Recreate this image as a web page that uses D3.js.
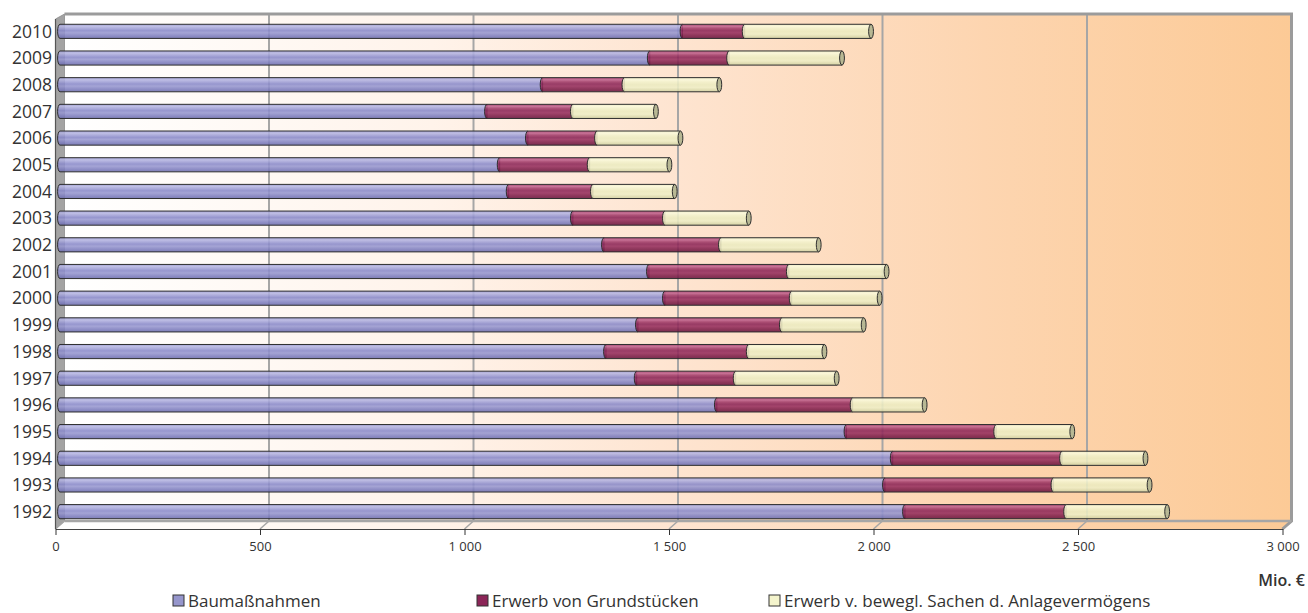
<!DOCTYPE html>
<html><head><meta charset="utf-8">
<script src="https://cdn.jsdelivr.net/npm/d3@7"></script>
<style>
html,body{margin:0;padding:0;background:#fff;}
svg{display:block;font-family:"Open Sans","Noto Sans",sans-serif;}
</style></head>
<body><svg id="chart" width="1308" height="613"></svg>
<script>
const years = ["2010","2009","2008","2007","2006","2005","2004","2003","2002","2001","2000","1999","1998","1997","1996","1995","1994","1993","1992"];
const baumassnahmen = [1522,1442,1180,1044,1144,1075,1097,1254,1330,1440,1479,1413,1335,1410,1606,1923,2036,2017,2066];
const grundstuecke  = [152,194,200,210,169,220,206,225,286,342,310,352,349,242,332,366,414,412,394];
const anlageverm    = [309,276,232,203,204,195,200,205,239,239,215,200,185,247,176,186,204,235,247];
const seriesNames = ["Baumaßnahmen","Erwerb von Grundstücken","Erwerb v. bewegl. Sachen d. Anlagevermögens"];
const tickValues = [0,500,1000,1500,2000,2500,3000];
const unitLabel = "Mio. €";

const svg = d3.select("#chart");
const defs = svg.append("defs");

// geometry
const frontLeft = 55.5, frontRight = 1282.5, frontTop = 22, frontBottom = 529;
const dx = 9, dy = -8;
const x = d3.scaleLinear().domain([0,3000]).range([frontLeft, frontRight]);
const xb = v => x(v) + dx/2;
const y = d3.scaleBand().domain(years).range([frontTop + dy/2, frontBottom + dy/2]).paddingInner(0.47).paddingOuter(0.235);

// wall gradient
const wg = defs.append("linearGradient").attr("id","wall").attr("gradientUnits","userSpaceOnUse")
  .attr("x1", frontLeft+dx).attr("x2", frontRight+dx).attr("y1",0).attr("y2",0);
[[0,"#ffffff"],[0.3,"#fff3ea"],[0.5,"#fee4d0"],[0.75,"#fdd5b0"],[1,"#fcca96"]].forEach(s=>wg.append("stop").attr("offset",s[0]).attr("stop-color",s[1]));

function cylGrad(id, stops){
  const g = defs.append("linearGradient").attr("id",id).attr("x1",0).attr("x2",0).attr("y1",0).attr("y2",1);
  stops.forEach(s=>g.append("stop").attr("offset",s[0]).attr("stop-color",s[1]));
}
cylGrad("g0",[[0,"#9898d0"],[0.15,"#b6b6e2"],[0.3,"#a0a0d6"],[0.45,"#8888c8"],[0.6,"#9898d0"],[0.8,"#8080c0"],[1,"#6c6cac"]]);
cylGrad("g1",[[0,"#a03c6c"],[0.15,"#c0628e"],[0.3,"#a03a68"],[0.45,"#8a2456"],[0.6,"#962e5e"],[0.8,"#7e1e4a"],[1,"#68143e"]]);
cylGrad("g2",[[0,"#eeeec8"],[0.15,"#fafadc"],[0.3,"#f2f2cc"],[0.5,"#ebebc0"],[0.7,"#eeeec6"],[0.85,"#dedeb2"],[1,"#d0d0a2"]]);
const capColors = ["#7070a8","#6a1a44","#b8b894"];

// back wall
svg.append("rect").attr("x", frontLeft+dx).attr("y", frontTop+dy).attr("width", frontRight-frontLeft).attr("height", frontBottom-frontTop)
  .attr("fill","url(#wall)");
// floor
svg.append("path").attr("d",`M${frontLeft},${frontBottom} L${frontLeft+dx},${frontBottom+dy} L${frontRight+dx},${frontBottom+dy} L${frontRight},${frontBottom} Z`)
  .attr("fill","url(#wall)");
// left wall
svg.append("path").attr("d",`M${frontLeft},${frontTop-3} L${frontLeft+dx},${frontTop+dy} L${frontLeft+dx},${frontBottom+dy} L${frontLeft},${frontBottom} Z`)
  .attr("fill","#a3a3a3").attr("stroke","#8c8c8c").attr("stroke-width",0.8);

// gridlines on back wall + floor
const grid = svg.append("g");
tickValues.forEach(t=>{
  if(t>0 && t<3000){
    grid.append("line").attr("x1",x(t)+dx).attr("x2",x(t)+dx).attr("y1",frontTop+dy).attr("y2",frontBottom+dy)
      .attr("stroke","#a6a6a6").attr("stroke-width",2);
  }
  grid.append("line").attr("x1",x(t)+dx).attr("x2",x(t)).attr("y1",frontBottom+dy).attr("y2",frontBottom)
    .attr("stroke","#a6a6a6").attr("stroke-width",1.5);
});
// wall borders
svg.append("path").attr("d",`M${frontLeft+dx},${frontTop+dy} L${frontRight+dx},${frontTop+dy} L${frontRight+dx},${frontBottom+dy} L${frontRight},${frontBottom}`)
  .attr("fill","none").attr("stroke","#9b9b9b").attr("stroke-width",3);
svg.append("line").attr("x1",frontLeft+dx).attr("x2",frontRight+dx).attr("y1",frontBottom+dy).attr("y2",frontBottom+dy)
  .attr("stroke","#a6a6a6").attr("stroke-width",2.5);

// bars
const stackData = years.map((yr,i)=>({year:yr, vals:[baumassnahmen[i], grundstuecke[i], anlageverm[i]]}));
const rx = 2.4;
const bars = svg.append("g");
stackData.forEach(d=>{
  const bw = y.bandwidth();
  const top = y(d.year), bot = top + bw, ry = bw/2;
  let cum = 0;
  d.vals.forEach((v,k)=>{
    const a = xb(cum), b = xb(cum+v);
    cum += v;
    bars.append("path")
      .attr("d",`M${a},${top} L${b},${top} L${b},${bot} L${a},${bot} A${rx},${ry} 0 0 1 ${a},${top} Z`)
      .attr("fill",`url(#g${k})`).attr("fill-opacity",0.88)
      .attr("stroke","#2e2e2e").attr("stroke-width",1);
    if(k===2){
      bars.append("ellipse").attr("cx",b).attr("cy",top+ry).attr("rx",rx).attr("ry",ry)
        .attr("fill",capColors[k]).attr("stroke","#2e2e2e").attr("stroke-width",1);
    }
  });
});

// axes lines
svg.append("line").attr("x1",frontLeft).attr("x2",frontLeft).attr("y1",frontTop-3).attr("y2",frontBottom)
  .attr("stroke","#555").attr("stroke-width",1.2);
const xAxis = d3.axisBottom(x).tickValues(tickValues).tickSize(6).tickSizeOuter(0)
  .tickFormat(d=> d3.format(",")(d).replace(/,/g," "));
const ax = svg.append("g").attr("transform",`translate(0,${frontBottom})`).call(xAxis);
ax.select(".domain").attr("stroke","#444").attr("stroke-width",1.2);
ax.selectAll(".tick line").attr("stroke","#333");
ax.selectAll(".tick text").attr("fill","#333").attr("font-size",13).attr("dy","1.0em")
  .style("font-family","'Open Sans','Noto Sans',sans-serif");

// year labels
const yl = svg.append("g");
years.forEach(yr=>{
  yl.append("text").attr("x",52).attr("y",y(yr)+y.bandwidth()/2).attr("dy","0.36em")
    .attr("text-anchor","end").attr("font-size",17.5).attr("fill","#333").text(yr);
});

// unit
svg.append("text").attr("x",1305).attr("y",586).attr("text-anchor","end").attr("font-size",16).attr("font-weight",600)
  .attr("fill","#333").text(unitLabel);

// legend
const legX = [173, 477, 769];
const fills = ["#9696cc","#8c2658","#f4f4cc"];
seriesNames.forEach((n,i)=>{
  svg.append("rect").attr("x",legX[i]).attr("y",595).attr("width",11).attr("height",11)
    .attr("fill",fills[i]).attr("stroke","#333").attr("stroke-width",1);
  svg.append("text").attr("x",legX[i]+15).attr("y",607).attr("font-size",17).attr("fill","#333").text(n);
});
</script></body></html>
